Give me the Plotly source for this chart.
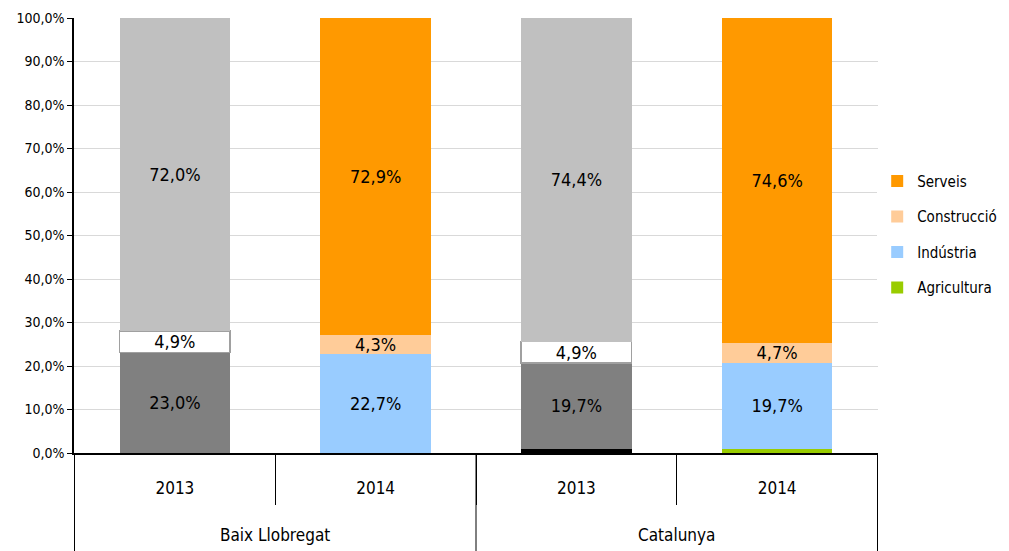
import plotly.graph_objects as go

groups = ["Baix Llobregat", "Catalunya"]
years = ["2013", "2014", "2013", "2014"]
bar_group = [0, 0, 1, 1]
categories = [f"{groups[g]} {y}" for g, y in zip(bar_group, years)]

sectors = ["Agricultura", "Indústria", "Construcció", "Serveis"]
agricultura = [0.1, 0.1, 1.0, 1.0]
industria = [23.0, 22.7, 19.7, 19.7]
construccio = [4.9, 4.3, 4.9, 4.7]
serveis = [72.0, 72.9, 74.4, 74.6]
values = [agricultura, industria, construccio, serveis]

colors_2014 = ["#99CC00", "#99CCFF", "#FFCC99", "#FF9900"]
colors_2013 = ["#000000", "#808080", "#FFFFFF", "#C0C0C0"]
show_text = [False, True, True, True]

FONT = "DejaVu Sans Condensed, Liberation Sans Narrow, Liberation Sans, Arial"

def fmt(v):
    return f"{v:.1f}%".replace(".", ",")

fig = go.Figure()
for yr, cols, leg in [("2013", colors_2013, False), ("2014", colors_2014, True)]:
    idx = [i for i, y in enumerate(years) if y == yr]
    for s, name in enumerate(sectors):
        vals = [values[s][i] for i in idx]
        white = cols[s] == "#FFFFFF"
        fig.add_trace(go.Bar(
            x=[categories[i] for i in idx],
            y=vals,
            name=name,
            legendgroup=name,
            legendrank=10 - s,
            showlegend=leg,
            marker=dict(color=cols[s],
                        line=dict(color="#A0A0A0" if white else cols[s],
                                  width=1.5 if white else 0)),
            text=[fmt(v) if show_text[s] else "" for v in vals],
            textposition="inside",
            insidetextanchor="middle",
            textangle=0,
            textfont=dict(family=FONT, size=18, color="#000000"),
            constraintext="none",
            hoverinfo="skip",
        ))

# group labels and group dividers
for g, name in enumerate(groups):
    fig.add_annotation(x=2 * g + 0.5, xref="x", y=-0.188, yref="paper",
                       text=name, showarrow=False, yanchor="middle",
                       font=dict(family=FONT, size=17, color="#000000"))
for b in [-0.5, 1.5, 3.5]:
    fig.add_shape(type="line", xref="x", yref="paper", x0=b, x1=b, y0=0, y1=-0.23,
                  line=dict(color="#000000", width=1))

fig.update_layout(
    barmode="stack",
    bargap=0.45,
    width=1009, height=551,
    margin=dict(l=74, r=131, t=18, b=98, autoexpand=False),
    paper_bgcolor="white", plot_bgcolor="white",
    separators=",.",
    font=dict(family=FONT, size=15, color="#000000"),
    legend=dict(traceorder="grouped", tracegroupgap=13,
                x=0.999, y=0.503, yanchor="middle", xanchor="left",
                font=dict(family=FONT, size=15), itemclick=False),
    xaxis=dict(type="category", categoryorder="array", categoryarray=categories,
               tickvals=categories, ticktext=years,
               showline=True, linecolor="#000000", linewidth=1.5,
               ticks="outside", tickson="boundaries", ticklen=50, tickcolor="#000000",
               tickwidth=1, ticklabelstandoff=19, automargin=False,
               tickfont=dict(family=FONT, size=17), showgrid=False),
    yaxis=dict(range=[0, 100], dtick=10, tickformat=".1f", ticksuffix="%",
               showline=True, linecolor="#000000", linewidth=1.5,
               ticks="outside", ticklen=5, tickcolor="#000000", automargin=False,
               showgrid=True, gridcolor="#D9D9D9", gridwidth=1,
               tickfont=dict(family=FONT, size=14), zeroline=False),
)

fig.write_html("out.html", config={"displayModeBar": False},
               post_script="document.body.style.margin='0';document.body.style.overflow='hidden';")
